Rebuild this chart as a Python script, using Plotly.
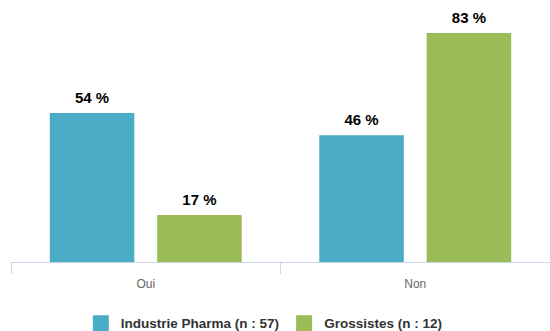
import plotly.graph_objects as go

categories = ["Oui", "Non"]
pharma = [54, 46]
grossistes = [17, 83]
series_names = ["Industrie Pharma (n : 57)", "Grossistes (n : 12)"]
colors = ["#4BACC6", "#9BBB59"]

FONT = "Liberation Sans, Arial, sans-serif"
fig = go.Figure()
for i, (name, vals, col) in enumerate(zip(series_names, [pharma, grossistes], colors)):
    fig.add_trace(go.Bar(
        x=categories, y=vals, name=name, showlegend=False,
        offsetgroup=str(i), alignmentgroup="a",
        marker=dict(color=col, line=dict(width=0)),
    ))
for i, (name, vals, col) in enumerate(zip(series_names, [pharma, grossistes], colors)):
    fig.add_trace(go.Scatter(
        x=categories, y=vals, mode="text+markers", showlegend=False,
        offsetgroup=str(i), alignmentgroup="a",
        marker=dict(symbol="square", size=9, color=col, opacity=0),
        text=[f"<b>{v} %</b>" for v in vals], textposition="top center",
        textfont=dict(family=FONT, size=15, color="#000000"),
        cliponaxis=False, hoverinfo="skip",
    ))
for name, col in zip(series_names, colors):
    fig.add_trace(go.Scatter(
        x=[None], y=[None], mode="markers", name="<b>" + name + "</b>",
        marker=dict(symbol="square", size=16, color=col), showlegend=True,
    ))

fig.update_layout(
    width=550, height=331,
    margin=dict(l=11, r=0, t=0, b=69, autoexpand=False),
    paper_bgcolor="white", plot_bgcolor="white",
    barmode="group", bargap=0.203, bargroupgap=0.213,
    scattermode="group", scattergap=0.203,
    font=dict(family=FONT, color="#333333"),
    xaxis=dict(showline=True, linecolor="#ccd6eb", linewidth=1, automargin=False,
               ticks="outside", tickson="boundaries", ticklen=11, tickcolor="#ccd6eb",
               ticklabelstandoff=11,
               tickfont=dict(size=12, color="#666666"), showgrid=False, fixedrange=True),
    yaxis=dict(range=[0, 95], visible=False, showgrid=False, fixedrange=True),
    legend=dict(orientation="h", x=0.47, xanchor="center", y=-0.175, yanchor="top",
                font=dict(size=13.5, color="#333333"), itemsizing="trace",
                traceorder="normal"),
)

fig.write_html("out.html")
